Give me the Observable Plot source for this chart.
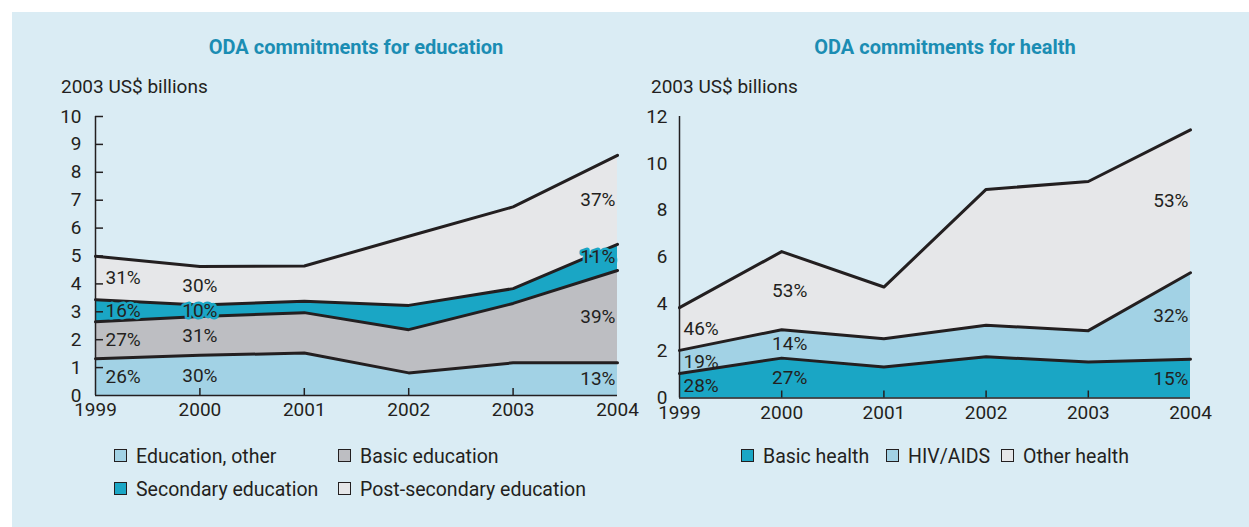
<!DOCTYPE html>
<html><head><meta charset="utf-8">
<script src="https://cdn.jsdelivr.net/npm/d3@7"></script>
<script src="https://cdn.jsdelivr.net/npm/@observablehq/plot@0.6"></script>
<style>
body{margin:0;background:#fff;font-family:Roboto,"Noto Sans",sans-serif;}
#wrap{position:relative;width:1249px;height:527px;overflow:hidden;background:#fff;}
#panel{position:absolute;left:12px;top:12px;right:0;bottom:0;background:#daecf4;}
.title{position:absolute;font-weight:bold;color:#1b8db3;font-size:20px;line-height:20px;transform:translateX(-50%);white-space:nowrap;}
.unit{position:absolute;font-size:19px;line-height:19px;color:#231f20;white-space:nowrap;}
.plot{position:absolute;}
.item{position:absolute;white-space:nowrap;font-size:19.5px;line-height:19px;color:#231f20;}
.sw{position:absolute;left:0;top:2px;width:11px;height:11px;border:1.5px solid #231f20;}
.item span.t{position:absolute;left:22px;top:0;}
</style>
</head><body>
<div id="wrap">
  <div id="panel"></div>
  <div class="title" style="left:356px;top:37px;">ODA commitments for education</div>
  <div class="title" style="left:945px;top:37px;">ODA commitments for health</div>
  <div class="unit" style="left:61px;top:77px;">2003 US$ billions</div>
  <div class="unit" style="left:651px;top:77px;">2003 US$ billions</div>
  <div id="left" class="plot" style="left:0px;top:100px;"></div>
  <div id="right" class="plot" style="left:620px;top:100px;"></div>
  <div id="legendL"></div>
  <div id="legendR"></div>
</div>
<script>
// ---------- data ----------
const years = [1999, 2000, 2001, 2002, 2003, 2004];
const labelYears = [1999, 2000, 2004];

const eduSeries = ["Education, other", "Basic education", "Secondary education", "Post-secondary education"];
const eduOther     = [1.32, 1.44, 1.52, 0.81, 1.17, 1.17];
const eduBasic     = [1.32, 1.39, 1.45, 1.55, 2.13, 3.31];
const eduSecondary = [0.79, 0.41, 0.41, 0.87, 0.53, 0.94];
const eduPost      = [1.56, 1.38, 1.26, 2.48, 2.93, 3.19];
const eduPctOther     = [26, 30, 13];
const eduPctBasic     = [27, 31, 39];
const eduPctSecondary = [16, 10, 11];
const eduPctPost      = [31, 30, 37];
const eduTicks = [0, 1, 2, 3, 4, 5, 6, 7, 8, 9, 10];

const healthSeries = ["Basic health", "HIV/AIDS", "Other health"];
const hBasic = [1.04, 1.70, 1.32, 1.76, 1.53, 1.65];
const hHiv   = [0.99, 1.21, 1.21, 1.34, 1.34, 3.69];
const hOther = [1.82, 3.33, 2.20, 5.79, 6.36, 6.09];
const hPctBasic = [28, 27, 15];
const hPctHiv   = [19, 14, 32];
const hPctOther = [46, 53, 53];
const healthTicks = [0, 2, 4, 6, 8, 10, 12];

const C_LIGHTBLUE = "#a2d2e5", C_GRAY = "#bdbec2", C_TEAL = "#1aa6c5", C_PALE = "#e6e7e9";
const INK = "#231f20";

function chart(o) {
  const data = [];
  o.series.forEach((s, i) => years.forEach((yr, j) => data.push({year: yr, series: s, value: o.values[i][j]})));
  const labels = [];
  labelYears.forEach((yr, k) => {
    const j = years.indexOf(yr);
    let base = 0;
    o.series.forEach((s, i) => {
      const v = o.values[i][j];
      labels.push({year: yr, series: s, y: base + v / 2, text: o.pcts[i][k] + "%", k, halo: o.halo.includes(s)});
      base += v;
    });
  });
  const innerW = o.width - o.marginLeft - o.marginRight;
  const innerH = o.height - o.marginTop - o.marginBottom;
  const pxX = innerW / (years[years.length - 1] - years[0]);
  const pxY = innerH / o.yMax;
  const tickLenY = 8 / pxX, tickLenX = 7 / pxY;
  const anchors = ["start", "middle", "end"];
  const dxs = [o.dx0, o.dx1, -2];
  const textMarks = [];
  [0, 1, 2].forEach(k => {
    const sub = labels.filter(d => d.k === k);
    const base = {x: "year", y: "y", text: "text", fontSize: 19, textAnchor: anchors[k], dx: dxs[k]};
    textMarks.push(Plot.text(sub.filter(d => d.halo), {...base, fill: "series", stroke: "series", strokeWidth: 5}));
    textMarks.push(Plot.text(sub, {...base, fill: INK}));
  });
  const marks = [
    Plot.areaY(data, {x: "year", y: "value", fill: "series", z: "series", order: o.series}),
    Plot.lineY(data, Plot.stackY2({x: "year", y: "value", z: "series", order: o.series, stroke: INK, strokeWidth: 3, strokeLinejoin: "round"})),
    ...textMarks,
    Plot.ruleX([years[0]], {y1: 0, y2: o.yMax, stroke: INK, strokeWidth: 1.5}),
    Plot.ruleY([0], {x1: years[0], x2: years[years.length - 1], stroke: INK, strokeWidth: 1.5}),
    Plot.ruleX(years.slice(1, -1), {y1: 0, y2: tickLenX, stroke: INK, strokeWidth: 1.5}),
    Plot.axisX({ticks: years, tickSize: 0, tickPadding: 7, tickFormat: d => String(d), fontSize: 19, fill: INK}),
    Plot.axisY({ticks: o.ticks, tickSize: 0, tickPadding: o.tickPad, tickFormat: d => String(d), fontSize: 19, fill: INK})
  ];
  if (o.yTickMarks) marks.push(Plot.ruleY(o.ticks.filter(t => t > 0), {x1: years[0], x2: years[0] + tickLenY, stroke: INK, strokeWidth: 1.5}));
  return Plot.plot({
    width: o.width, height: o.height,
    marginLeft: o.marginLeft, marginRight: o.marginRight, marginTop: o.marginTop, marginBottom: o.marginBottom,
    style: {background: "transparent", fontFamily: "Roboto", fontSize: "19px", color: INK, overflow: "visible"},
    x: {domain: [years[0], years[years.length - 1]], label: null},
    y: {domain: [0, o.yMax], label: null},
    color: {domain: o.series, range: o.colors},
    marks
  });
}

document.getElementById("left").append(chart({
  series: eduSeries,
  values: [eduOther, eduBasic, eduSecondary, eduPost],
  pcts: [eduPctOther, eduPctBasic, eduPctSecondary, eduPctPost],
  colors: [C_LIGHTBLUE, C_GRAY, C_TEAL, C_PALE],
  halo: ["Secondary education"],
  yMax: 10, ticks: eduTicks, yTickMarks: true, tickPad: 14,
  width: 642, height: 330, marginLeft: 95, marginRight: 25, marginTop: 16, marginBottom: 35,
  dx0: 10, dx1: 0
}));
document.getElementById("right").append(chart({
  series: healthSeries,
  values: [hBasic, hHiv, hOther],
  pcts: [hPctBasic, hPctHiv, hPctOther],
  colors: [C_TEAL, C_LIGHTBLUE, C_PALE],
  halo: [],
  yMax: 12, ticks: healthTicks, yTickMarks: false, tickPad: 12,
  width: 595, height: 332.5, marginLeft: 59, marginRight: 25, marginTop: 16, marginBottom: 35,
  dx0: 4, dx1: 8
}));

// legends
function legend(containerId, items) {
  const c = document.getElementById(containerId);
  items.forEach(([label, color, x, y]) => {
    const d = document.createElement("div");
    d.className = "item";
    d.style.left = x + "px"; d.style.top = y + "px";
    d.innerHTML = `<div class="sw" style="background:${color}"></div><span class="t">${label}</span>`;
    c.append(d);
  });
}
const eduColors = [C_LIGHTBLUE, C_GRAY, C_TEAL, C_PALE];
const legendLPos = [[114, 447], [338, 447], [114, 480], [338, 480]];
legend("legendL", eduSeries.map((s, i) => [s, eduColors[i], ...legendLPos[i]]));
const hColors = [C_TEAL, C_LIGHTBLUE, C_PALE];
const legendRPos = [[741, 447], [886, 447], [1001, 447]];
legend("legendR", healthSeries.map((s, i) => [s, hColors[i], ...legendRPos[i]]));
</script>
</body></html>
